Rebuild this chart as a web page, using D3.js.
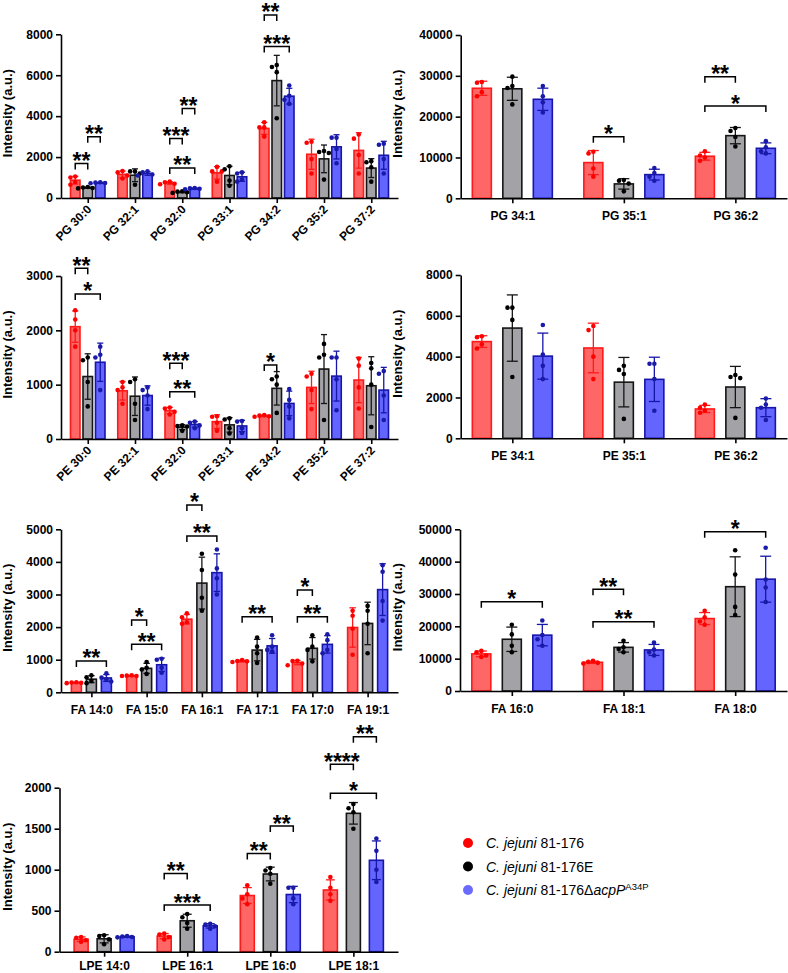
<!DOCTYPE html>
<html>
<head>
<meta charset="utf-8">
<script src="https://cdn.jsdelivr.net/npm/d3@7"></script>
<style>
body { margin: 0; background: #fff; }
text { font-family: "Liberation Sans", Arial, sans-serif; }
</style>
</head>
<body>
<svg id="chart"></svg>
<script>

var width = 788,
    height = 973;

// three strains, same order in every panel
var strains = ["C. jejuni 81-176", "C. jejuni 81-176E", "C. jejuni 81-176\u0394acpP A34P"];
var fillCol = ["#ff6666", "#a3a3a7", "#6464ff"],
    lineCol = ["#ff1a1a", "#151515", "#1616a8"],
    dotCol = ["#ff0000", "#000000", "#1a1aa8"],
    legendCol = ["#ff0000", "#000000", "#6a6aff"];

// ---- PG (small) ----
var pgCats = ["PG 30:0", "PG 32:1", "PG 32:0", "PG 33:1", "PG 34:2", "PG 35:2", "PG 37:2"];
var pgTicks = [0, 2000, 4000, 6000, 8000];
var pgDots = [
    [[1050, 1000, 780, 650], [540, 510, 490, 470], [770, 750, 730, 720]],
    [[1320, 1250, 1100, 950], [1300, 1300, 1200, 650], [1300, 1250, 1150, 1100]],
    [[800, 770, 700, 670], [330, 310, 280, 250], [490, 470, 450, 430]],
    [[1520, 1300, 1300, 800], [1550, 1400, 850, 600], [1250, 1200, 900, 800]],
    [[3700, 3450, 3450, 3000], [6500, 6400, 6150, 3900], [5500, 5000, 4800, 4600]],
    [[2750, 2700, 1900, 1200], [2300, 2250, 2200, 900], [2950, 2950, 2400, 1700]],
    [[3100, 2900, 2100, 1200], [1800, 1750, 1500, 800], [2650, 2600, 1900, 1200]]
];
var pgSig = [
    ["PG 30:0", 0, 1, 1680, "**"], ["PG 30:0", 1, 2, 2990, "**"],
    ["PG 32:0", 0, 1, 2906, "***"], ["PG 32:0", 1, 2, 4375, "**"], ["PG 32:0", 0, 2, 1470, "**"],
    ["PG 34:2", 0, 1, 8947, "**"], ["PG 34:2", 0, 2, 7400, "***"]
];

// ---- PG (large) ----
var pgBigCats = ["PG 34:1", "PG 35:1", "PG 36:2"];
var pgBigTicks = [0, 10000, 20000, 30000, 40000];
var pgBigDots = [
    [[28500, 28300, 26000, 25000], [29800, 27500, 27000, 23000], [27500, 25000, 23500, 21000]],
    [[11400, 11000, 7300, 5300], [4500, 4300, 3600, 1700], [7400, 6200, 5300, 4300]],
    [[11500, 10500, 10000, 9200], [17200, 16500, 15000, 12700], [14000, 12500, 11500, 11000]]
];
var pgBigSig = [
    ["PG 35:1", 0, 1, 15100, "*"],
    ["PG 36:2", 0, 1, 29800, "**"], ["PG 36:2", 0, 2, 22600, "*"]
];

// ---- PE (small) ----
var peCats = ["PE 30:0", "PE 32:1", "PE 32:0", "PE 33:1", "PE 34:2", "PE 35:2", "PE 37:2"];
var peTicks = [0, 1000, 2000, 3000];
var peDots = [
    [[2370, 2200, 2000, 1700], [1500, 1450, 1050, 600], [1700, 1550, 1500, 900]],
    [[1050, 950, 900, 650], [1100, 1050, 650, 350], [950, 900, 800, 550]],
    [[580, 560, 500, 450], [250, 240, 230, 150], [320, 300, 250, 200]],
    [[420, 410, 300, 150], [380, 360, 200, 100], [330, 320, 200, 110]],
    [[440, 430, 420, 410], [1150, 1100, 1000, 480], [920, 720, 600, 380]],
    [[1200, 1150, 900, 550], [1750, 1550, 1500, 350], [1500, 1500, 1100, 530]],
    [[1480, 1350, 950, 560], [1400, 1300, 1000, 220], [1250, 1200, 800, 350]]
];
var peSig = [
    ["PE 30:0", 0, 1, 3141, "**"], ["PE 30:0", 0, 2, 2669, "*"],
    ["PE 32:0", 0, 1, 1393, "***"], ["PE 32:0", 0, 2, 871, "**"],
    ["PE 34:2", 0, 1, 1362, "*"]
];

// ---- PE (large) ----
var peBigCats = ["PE 34:1", "PE 35:1", "PE 36:2"];
var peBigTicks = [0, 2000, 4000, 6000, 8000];
var peBigDots = [
    [[5000, 4950, 4600, 4400], [6400, 6400, 5800, 3000], [5550, 4100, 3550, 2900]],
    [[5500, 5300, 4000, 2900], [3550, 3350, 3150, 950], [3650, 3650, 2900, 1350]],
    [[1650, 1500, 1350, 1250], [3100, 3000, 2950, 1000], [1950, 1650, 1500, 900]]
];
var peBigSig = [];

// ---- FA (small) ----
var faCats = ["FA 14:0", "FA 15:0", "FA 16:1", "FA 17:1", "FA 17:0", "FA 19:1"];
var faTicks = [0, 1000, 2000, 3000, 4000, 5000];
var faDots = [
    [[310, 300, 290, 280], [520, 460, 350, 280], [580, 450, 400, 330]],
    [[520, 510, 500, 500], [930, 750, 700, 560], [1030, 1000, 750, 600]],
    [[2420, 2300, 2150, 2100], [4250, 3750, 2900, 2500], [4380, 3800, 3500, 3000]],
    [[990, 960, 950, 930], [1680, 1400, 1200, 900], [1750, 1400, 1300, 1250]],
    [[970, 960, 880, 830], [1750, 1400, 1300, 950], [1780, 1600, 1300, 1200]],
    [[2500, 2350, 1950, 1150], [2650, 2500, 2100, 1200], [3900, 3700, 2800, 2200]]
];
var faSig = [
    ["FA 14:0", 0, 2, 961, "**"],
    ["FA 15:0", 0, 1, 2219, "*"], ["FA 15:0", 0, 2, 1472, "**"],
    ["FA 16:1", 0, 1, 5746, "*"], ["FA 16:1", 0, 2, 4795, "**"],
    ["FA 17:1", 0, 2, 2321, "**"],
    ["FA 17:0", 0, 1, 3139, "*"], ["FA 17:0", 0, 2, 2321, "**"]
];

// ---- FA (large) ----
var faBigCats = ["FA 16:0", "FA 18:1", "FA 18:0"];
var faBigTicks = [0, 10000, 20000, 30000, 40000, 50000];
var faBigDots = [
    [[12400, 12000, 11000, 10500], [20500, 17500, 14000, 12000], [21800, 17300, 16000, 14000]],
    [[9300, 9000, 8700, 8500], [15500, 13500, 13000, 12000], [15000, 12800, 12000, 11000]],
    [[24800, 22800, 21500, 20500], [43500, 36000, 26000, 23500], [44300, 34500, 32000, 27500]]
];
var faBigSig = [
    ["FA 16:0", 0, 2, 27630, "*"],
    ["FA 18:1", 0, 1, 31440, "**"], ["FA 18:1", 0, 2, 21440, "**"],
    ["FA 18:0", 0, 2, 49280, "*"]
];

// ---- LPE ----
var lpeCats = ["LPE 14:0", "LPE 16:1", "LPE 16:0", "LPE 18:1"];
var lpeTicks = [0, 500, 1000, 1500, 2000];
var lpeDots = [
    [[180, 170, 140, 120], [200, 190, 150, 90], [190, 185, 180, 175]],
    [[220, 210, 180, 150], [460, 420, 350, 280], [340, 330, 310, 280]],
    [[810, 700, 650, 580], [1020, 990, 950, 830], [780, 780, 650, 580]],
    [[910, 780, 700, 620], [1800, 1750, 1700, 1500], [1380, 1230, 1000, 850]]
];
var lpeSig = [
    ["LPE 16:1", 0, 1, 955, "**"], ["LPE 16:1", 0, 2, 569, "***"],
    ["LPE 16:0", 0, 1, 1199, "**"], ["LPE 16:0", 1, 2, 1532, "**"],
    ["LPE 18:1", 0, 1, 2285, "****"], ["LPE 18:1", 0, 2, 1931, "*"], ["LPE 18:1", 1, 2, 2622, "**"]
];

// layout of each panel on the page
var panels = [
    {cats: pgCats, dots: pgDots, ticks: pgTicks, sig: pgSig,
     x0: 61, x1: 398, pad: 0.566, y0: 198, y1: 34.3, bw: 9.5, off: 12.5, rot: true, tx: 12, lp: 8},
    {cats: pgBigCats, dots: pgBigDots, ticks: pgBigTicks, sig: pgBigSig,
     x0: 460.7, x1: 787, pad: 0.463, y0: 198.3, y1: 35, bw: 19, off: 30.5, rot: false, tx: 402, lp: 8},
    {cats: peCats, dots: peDots, ticks: peTicks, sig: peSig,
     x0: 61, x1: 398, pad: 0.566, y0: 439, y1: 276, bw: 9.5, off: 12.5, rot: true, tx: 12, lp: 8},
    {cats: peBigCats, dots: peBigDots, ticks: peBigTicks, sig: peBigSig,
     x0: 460.7, x1: 787, pad: 0.463, y0: 438.3, y1: 275, bw: 19, off: 30.5, rot: false, tx: 402, lp: 8},
    {cats: faCats, dots: faDots, ticks: faTicks, sig: faSig,
     x0: 61, x1: 398, pad: 0.55, y0: 692.3, y1: 529.3, bw: 10, off: 15, rot: false, tx: 12, lp: 8},
    {cats: faBigCats, dots: faBigDots, ticks: faBigTicks, sig: faBigSig,
     x0: 460, x1: 787, pad: 0.464, y0: 691, y1: 529.3, bw: 19, off: 30.5, rot: false, tx: 402, lp: 8},
    {cats: lpeCats, dots: lpeDots, ticks: lpeTicks, sig: lpeSig,
     x0: 59.5, x1: 398, pad: 0.537, y0: 951.7, y1: 787.7, bw: 14, off: 23, rot: false, tx: 12, lp: 4.5}
];

var svg = d3.select("#chart")
    .attr("width", width)
    .attr("height", height);

var dotR = 2.3;

// spread points of one bar sideways when they overlap
function swarm(vals, cx, y) {
    var placed = [],
        steps = [0, -1, 1, -2, 2, -3, 3];
    return vals.map(function(v) {
        var py = y(v), px = cx;
        for (var k = 0; k < steps.length; k++) {
            px = cx + steps[k] * dotR * 2.1;
            var free = placed.every(function(q) {
                return Math.hypot(q.x - px, q.y - py) >= dotR * 2;
            });
            if (free) break;
        }
        placed.push({x: px, y: py});
        return {x: px, y: py};
    });
}

function drawPanel(p) {
    var g = svg.append("g");

    var x = d3.scalePoint().domain(p.cats).range([p.x0, p.x1]).padding(p.pad),
        y = d3.scaleLinear().domain([0, d3.max(p.ticks)]).range([p.y0, p.y1]),
        sx = d3.scalePoint().domain([0, 1, 2]).range([-p.off, p.off]);

    var rows = [];
    p.cats.forEach(function(c, i) {
        p.dots[i].forEach(function(vals, s) {
            rows.push({cat: c, s: s, vals: vals,
                       mean: d3.mean(vals), sd: d3.deviation(vals),
                       cx: x(c) + sx(s)});
        });
    });

    // bars
    g.selectAll("rect.bar").data(rows).join("rect")
        .attr("class", "bar")
        .attr("x", d => d.cx - p.bw / 2)
        .attr("y", d => y(d.mean))
        .attr("width", p.bw)
        .attr("height", d => p.y0 - y(d.mean))
        .attr("fill", d => fillCol[d.s])
        .attr("stroke", d => lineCol[d.s])
        .attr("stroke-width", 1.6);

    // error bars (mean +/- SD)
    var cap = Math.min(5.5, p.bw * 0.32);
    var eb = g.selectAll("g.err").data(rows).join("g")
        .attr("class", "err")
        .attr("stroke", d => lineCol[d.s])
        .attr("stroke-width", 1.3);
    eb.append("line")
        .attr("x1", d => d.cx).attr("x2", d => d.cx)
        .attr("y1", d => y(d.mean + d.sd)).attr("y2", d => y(Math.max(0, d.mean - d.sd)));
    eb.append("line")
        .attr("x1", d => d.cx - cap).attr("x2", d => d.cx + cap)
        .attr("y1", d => y(d.mean + d.sd)).attr("y2", d => y(d.mean + d.sd));
    eb.append("line")
        .attr("x1", d => d.cx - cap).attr("x2", d => d.cx + cap)
        .attr("y1", d => y(Math.max(0, d.mean - d.sd))).attr("y2", d => y(Math.max(0, d.mean - d.sd)));

    // individual points
    rows.forEach(function(d) {
        g.selectAll(null).data(swarm(d.vals, d.cx, y)).join("circle")
            .attr("cx", q => q.x)
            .attr("cy", q => q.y)
            .attr("r", dotR)
            .attr("fill", dotCol[d.s]);
    });

    // axes
    var ya = g.append("g")
        .attr("transform", "translate(" + p.x0 + ",0)")
        .call(d3.axisLeft(y).tickValues(p.ticks).tickFormat(d3.format("d"))
            .tickSize(5).tickPadding(3).tickSizeOuter(0));
    var xa = g.append("g")
        .attr("transform", "translate(0," + p.y0 + ")")
        .call(d3.axisBottom(x).tickSize(5).tickPadding(p.lp).tickSizeOuter(0));

    [ya, xa].forEach(function(a) {
        a.select(".domain").attr("stroke-width", 1.6);
        a.selectAll(".tick line").attr("stroke-width", 1.6);
        a.selectAll("text")
            .attr("font-size", 12)
            .attr("font-weight", "bold")
            .attr("fill", "#000");
    });
    if (p.rot) {
        xa.selectAll(".tick text")
            .attr("y", 0)
            .attr("dy", null)
            .attr("text-anchor", "end")
            .attr("transform", "translate(4,12) rotate(-45)");
    }

    g.append("text")
        .attr("transform", "translate(" + p.tx + "," + ((p.y0 + p.y1) / 2 - 3) + ") rotate(-90)")
        .attr("text-anchor", "middle")
        .attr("font-size", 13)
        .attr("font-weight", "bold")
        .text("Intensity (a.u.)");

    // significance brackets
    var leg = 6;
    var br = g.selectAll("g.sig").data(p.sig).join("g").attr("class", "sig");
    br.append("path")
        .attr("fill", "none")
        .attr("stroke", "#000")
        .attr("stroke-width", 1.5)
        .attr("d", function(d) {
            var xa0 = x(d[0]) + sx(d[1]), xb = x(d[0]) + sx(d[2]), yy = y(d[3]);
            return "M" + xa0 + "," + (yy + leg) + "V" + yy + "H" + xb + "V" + (yy + leg);
        });
    br.append("text")
        .attr("x", d => x(d[0]) + (sx(d[1]) + sx(d[2])) / 2)
        .attr("y", d => y(d[3]) + 5.5)
        .attr("text-anchor", "middle")
        .attr("font-size", 23)
        .attr("font-weight", "bold")
        .text(d => d[4]);
}

panels.forEach(drawPanel);

// legend
var lg = svg.append("g").attr("transform", "translate(468,843)");
var li = lg.selectAll("g").data(strains).join("g")
    .attr("transform", (d, i) => "translate(0," + i * 23.5 + ")");
li.append("circle").attr("r", 5).attr("fill", (d, i) => legendCol[i]);
var lt = li.append("text")
    .attr("x", 18)
    .attr("y", 5)
    .attr("font-size", 14);
lt.each(function(d, i) {
    var t = d3.select(this);
    t.append("tspan").attr("font-style", "italic").text("C. jejuni");
    if (i < 2) {
        t.append("tspan").text(d.replace("C. jejuni", ""));
    } else {
        t.append("tspan").text(" 81-176\u0394");
        t.append("tspan").attr("font-style", "italic").text("acpP");
        t.append("tspan").attr("font-size", 9.5).attr("dy", -5).text("A34P");
    }
});

</script>
</body>
</html>
